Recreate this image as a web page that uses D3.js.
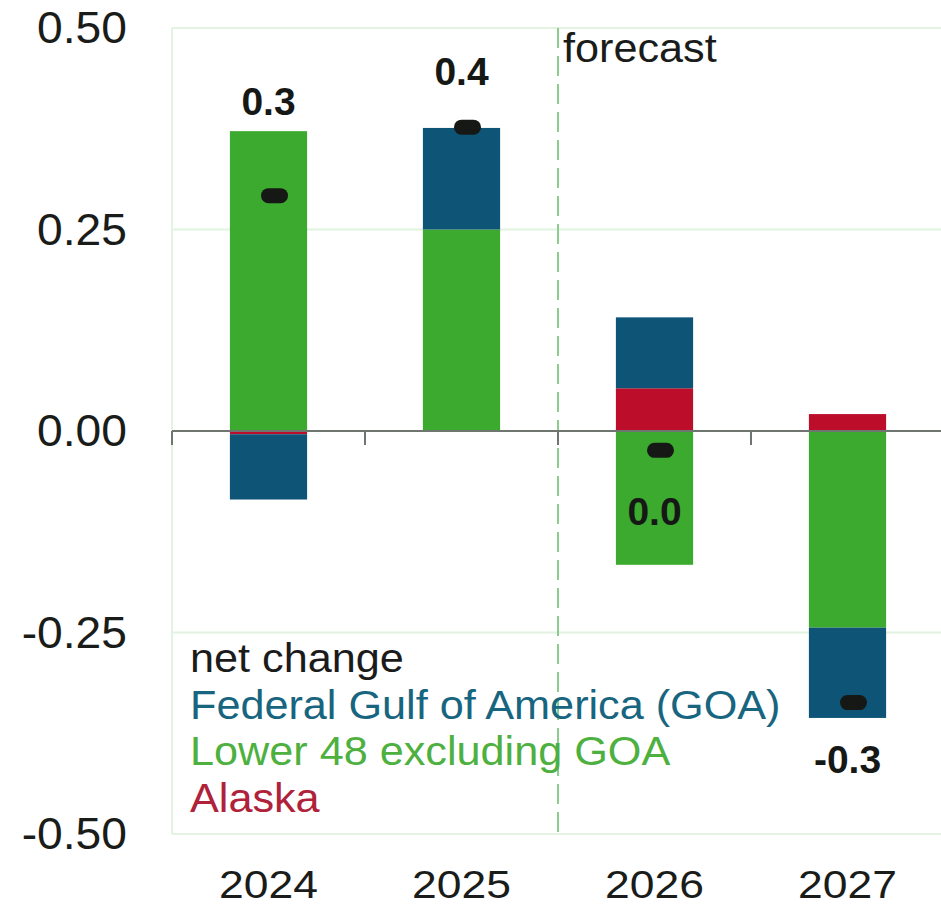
<!DOCTYPE html>
<html>
<head>
<meta charset="utf-8">
<script src="https://cdn.jsdelivr.net/npm/d3@7"></script>
<style>
  html, body { margin: 0; padding: 0; background: #ffffff; }
  svg { display: block; font-family: "Liberation Sans", Arial, sans-serif; }
</style>
</head>
<body>
<svg id="chart" width="941" height="909"></svg>
<script>
// ---- data ----
const years = ["2024", "2025", "2026", "2027"];
const lower48 = [0.372, 0.250, -0.166, -0.244];
const alaska = [-0.004, 0.000, 0.053, 0.021];
const goa = [-0.081, 0.126, 0.088, -0.112];
const netChange = [0.292, 0.377, -0.024, -0.337];
const netLabels = ["0.3", "0.4", "0.0", "-0.3"];
const netLabelPos = [0.392, 0.429, -0.117, -0.424];
const yTickValues = [0.5, 0.25, 0, -0.25, -0.5];
const yTickLabels = ["0.50", "0.25", "0.00", "-0.25", "-0.50"];
const legendLabels = ["net change", "Federal Gulf of America (GOA)", "Lower 48 excluding GOA", "Alaska"];
const forecastLabel = "forecast";

// ---- styles ----
const colors = { lower48: "#3BAA2E", alaska: "#BC0E2A", goa: "#0D5476" };
const legendColors = ["#1b1b1b", "#17657f", "#4DB03F", "#B0213A"];

const svg = d3.select("#chart");
const plotLeft = 172, plotRight = 944, plotTop = 28, plotBottom = 834;

const x = d3.scaleBand().domain(years).range([plotLeft, plotRight]).paddingInner(0.6).paddingOuter(0.3);
const y = d3.scaleLinear().domain([-0.5, 0.5]).range([plotBottom, plotTop]);

// frame + gridlines
const gridColor = "#e2f3e2";
svg.append("g").selectAll("line").data(yTickValues).join("line")
  .attr("x1", plotLeft).attr("x2", 941)
  .attr("y1", d => y(d)).attr("y2", d => y(d))
  .attr("stroke", d => d === 0 ? "none" : gridColor)
  .attr("stroke-width", 2);
svg.append("line").attr("x1", plotLeft).attr("x2", plotLeft).attr("y1", y(0.5)).attr("y2", y(-0.5))
  .attr("stroke", gridColor).attr("stroke-width", 2);

// stacked bars
const rows = years.map((yr, i) => ({ year: yr, lower48: lower48[i], alaska: alaska[i], goa: goa[i] }));
const keys = ["lower48", "alaska", "goa"];
const series = d3.stack().keys(keys).offset(d3.stackOffsetDiverging)(rows);

svg.append("g").selectAll("g").data(series).join("g")
  .attr("fill", s => colors[s.key])
  .selectAll("rect").data(s => s).join("rect")
  .attr("x", d => x(d.data.year))
  .attr("width", x.bandwidth())
  .attr("y", d => y(Math.max(d[0], d[1])))
  .attr("height", d => Math.abs(y(d[0]) - y(d[1])));

// boundaries between categories
const boundaries = years.map(yr => x(yr) - (x.step() - x.bandwidth()) / 2);

// forecast dashed line
const fx = boundaries[2];
svg.append("line").attr("x1", fx).attr("x2", fx).attr("y1", y(0.5)).attr("y2", y(-0.5))
  .attr("stroke", "#8ccc8c").attr("stroke-width", 2).attr("stroke-dasharray", "20,8");

// zero line + ticks
svg.append("line").attr("x1", plotLeft).attr("x2", 941).attr("y1", y(0)).attr("y2", y(0))
  .attr("stroke", "#6f756f").attr("stroke-width", 2);
svg.append("g").selectAll("line").data(boundaries).join("line")
  .attr("x1", d => d).attr("x2", d => d)
  .attr("y1", y(0)).attr("y2", y(0) + 14)
  .attr("stroke", "#6f756f").attr("stroke-width", 2);

// net change markers
svg.append("g").selectAll("rect").data(netChange).join("rect")
  .attr("x", (d, i) => x(years[i]) + x.bandwidth() / 2 + 6 - 13.5)
  .attr("y", d => y(d) - 7.5)
  .attr("width", 27).attr("height", 15).attr("rx", 7.5).attr("ry", 7.5)
  .attr("fill", "#161816");

// net labels
svg.append("g").selectAll("text").data(netLabels).join("text")
  .attr("x", (d, i) => x(years[i]) + x.bandwidth() / 2)
  .attr("y", (d, i) => y(netLabelPos[i]))
  .attr("text-anchor", "middle")
  .attr("font-size", 39).attr("font-weight", "bold").attr("fill", "#161816")
  .text(d => d);

// y tick labels
svg.append("g").selectAll("text").data(yTickValues).join("text")
  .attr("transform", d => `translate(127,${y(d) + 15}) scale(1.05,1)`)
  .attr("text-anchor", "end")
  .attr("font-size", 44).attr("fill", "#1a1c1a")
  .text((d, i) => yTickLabels[i]);

// x labels
svg.append("g").selectAll("text").data(years).join("text")
  .attr("transform", d => `translate(${x(d) + x.bandwidth() / 2},898) scale(1.14,1)`)
  .attr("text-anchor", "middle")
  .attr("font-size", 39).attr("fill", "#1a1c1a")
  .text(d => d);

// forecast label
svg.append("text")
  .attr("transform", `translate(${fx + 5},62) scale(1.08,1)`)
  .attr("font-size", 40).attr("fill", "#1a1c1a")
  .text(forecastLabel);

// legend
svg.append("g").selectAll("text").data(legendLabels).join("text")
  .attr("transform", (d, i) => `translate(190,${672 + i * 46.7}) scale(1.08,1)`)
  .attr("font-size", 40)
  .attr("fill", (d, i) => legendColors[i])
  .text(d => d);
</script>
</body>
</html>
